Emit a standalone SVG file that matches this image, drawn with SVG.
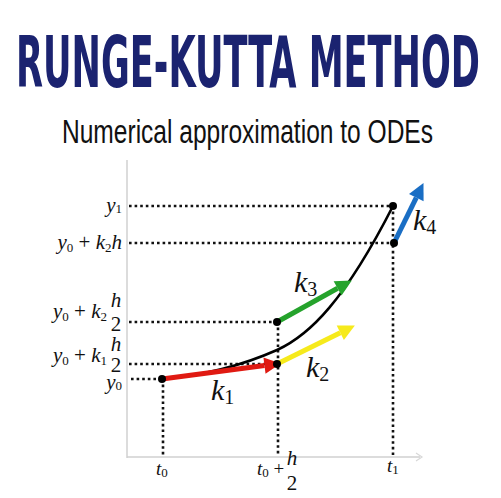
<svg xmlns="http://www.w3.org/2000/svg" width="501" height="498" viewBox="0 0 501 498">
<style>
.title{font-family:"DejaVu Sans Condensed","Liberation Sans",sans-serif;font-weight:bold;font-size:72px;fill:#1b2370}
.sub{font-family:"Liberation Sans",Arial,sans-serif;font-size:33px;fill:#111}
.axis{stroke:#d0d0d0;stroke-width:1.5;fill:none}
.dot{stroke:#111;stroke-width:2.6;stroke-dasharray:2.6 3;fill:none}
.curve{stroke:#000;stroke-width:2.6;fill:none}
.m{font-family:"Liberation Serif","Times New Roman",serif;font-style:italic;font-size:19px;fill:#111}
.n{font-family:"Liberation Serif","Times New Roman",serif;font-size:19px;fill:#111}
.fm{font-family:"Liberation Serif","Times New Roman",serif;font-style:italic;font-size:21px;fill:#111}
.fn{font-family:"Liberation Serif","Times New Roman",serif;font-size:21px;fill:#111}
.s{font-family:"Liberation Serif","Times New Roman",serif;font-size:13px;fill:#111}
.k{font-family:"Liberation Serif","Times New Roman",serif;font-style:italic;font-size:30px;fill:#111}
.ks{font-family:"Liberation Serif","Times New Roman",serif;font-size:20px;fill:#111}
.pt{fill:#000}
</style>
<defs>
<marker id="hr" markerUnits="userSpaceOnUse" orient="auto" refX="0" refY="0" markerWidth="20" markerHeight="20" viewBox="0 -8 16 16" overflow="visible"><path d="M0,-6.5 L13,0 L0,6.5 z" fill="#e01a12"/></marker>
<marker id="hy" markerUnits="userSpaceOnUse" orient="auto" refX="0" refY="0" markerWidth="20" markerHeight="20" viewBox="0 -8 16 16" overflow="visible"><path d="M0,-6.5 L13,0 L0,6.5 z" fill="#f6ea1c"/></marker>
<marker id="hg" markerUnits="userSpaceOnUse" orient="auto" refX="0" refY="0" markerWidth="20" markerHeight="20" viewBox="0 -8 16 16" overflow="visible"><path d="M0,-6.5 L13,0 L0,6.5 z" fill="#25a32c"/></marker>
<marker id="hb" markerUnits="userSpaceOnUse" orient="auto" refX="0" refY="0" markerWidth="20" markerHeight="20" viewBox="0 -8 16 16" overflow="visible"><path d="M0,-6.5 L13,0 L0,6.5 z" fill="#1a6ec4"/></marker>
</defs>
<rect width="501" height="498" fill="#fff"/>
<g id="title">
<text class="title" x="16" y="87" textLength="464" lengthAdjust="spacingAndGlyphs">RUNGE-KUTTA METHOD</text>
<text class="sub" x="62" y="143" textLength="371" lengthAdjust="spacingAndGlyphs">Numerical approximation to ODEs</text>
</g>
<g id="axes">
<line class="axis" x1="127" y1="160" x2="127" y2="458"/>
<line class="axis" x1="127" y1="457" x2="420" y2="457"/>
<path d="M416,453 L422,457 L416,461" stroke="#d8d8d8" stroke-width="1.2" fill="none"/>
</g>
<g id="connectors">
<line class="dot" x1="129" y1="206" x2="392" y2="206"/>
<line class="dot" x1="129" y1="243" x2="394" y2="243"/>
<line class="dot" x1="129" y1="322" x2="277" y2="322"/>
<line class="dot" x1="129" y1="364" x2="277" y2="364"/>
<line class="dot" x1="131" y1="379" x2="162" y2="379"/>
<line class="dot" x1="163" y1="379" x2="163" y2="456"/>
<line class="dot" x1="278" y1="322" x2="278" y2="456"/>
<line class="dot" x1="393" y1="206" x2="393" y2="456"/>
</g>
<g id="curve">
<path class="curve" d="M162,379 C210,375 250,362 277,350 C310,335 345,300 393,206"/>
</g>
<g id="arrows">
<line x1="162" y1="379" x2="264.5" y2="365.6" stroke="#e01a12" stroke-width="5" marker-end="url(#hr)"/>
<line x1="277" y1="364" x2="340.3" y2="332.8" stroke="#f6ea1c" stroke-width="5" marker-end="url(#hy)"/>
<line x1="277" y1="322" x2="337.6" y2="288.3" stroke="#25a32c" stroke-width="5" marker-end="url(#hg)"/>
<line x1="394" y1="243" x2="416.3" y2="197.7" stroke="#1a6ec4" stroke-width="5" marker-end="url(#hb)"/>
</g>
<g id="points">
<circle class="pt" cx="162" cy="379" r="4"/>
<circle class="pt" cx="277" cy="364" r="4"/>
<circle class="pt" cx="277" cy="322" r="4"/>
<circle class="pt" cx="393" cy="206" r="4"/>
<circle class="pt" cx="394" cy="243" r="4"/>
</g>
<g id="k-labels">
<text x="211" y="400"><tspan class="k">k</tspan><tspan class="ks" dy="4">1</tspan></text>
<text x="306" y="377"><tspan class="k">k</tspan><tspan class="ks" dy="4">2</tspan></text>
<text x="294" y="292"><tspan class="k">k</tspan><tspan class="ks" dy="4">3</tspan></text>
<text x="413" y="230"><tspan class="k">k</tspan><tspan class="ks" dy="4">4</tspan></text>
</g>
<g id="y-labels">
<text x="122" y="212" text-anchor="end"><tspan class="fm">y</tspan><tspan class="s" dy="1">1</tspan></text>
<text x="122" y="249" text-anchor="end"><tspan class="fm">y</tspan><tspan class="s" dy="3">0</tspan><tspan class="fn" dy="-3"> + </tspan><tspan class="fm">k</tspan><tspan class="s" dy="3">2</tspan><tspan class="fm" dy="-3">h</tspan></text>
<text x="107" y="318" text-anchor="end"><tspan class="fm">y</tspan><tspan class="s" dy="3">0</tspan><tspan class="fn" dy="-3"> + </tspan><tspan class="fm">k</tspan><tspan class="s" dy="3">2</tspan></text>
<text class="fm" x="116" y="307" text-anchor="middle">h</text>
<text class="fn" x="116" y="331" text-anchor="middle">2</text>
<text x="107" y="362" text-anchor="end"><tspan class="fm">y</tspan><tspan class="s" dy="3">0</tspan><tspan class="fn" dy="-3"> + </tspan><tspan class="fm">k</tspan><tspan class="s" dy="3">1</tspan></text>
<text class="fm" x="116" y="351" text-anchor="middle">h</text>
<text class="fn" x="116" y="372" text-anchor="middle">2</text>
<text x="122" y="389" text-anchor="end"><tspan class="fm">y</tspan><tspan class="s" dy="1">0</tspan></text>
</g>
<g id="t-labels">
<text x="156" y="475"><tspan class="m">t</tspan><tspan class="s" dy="2">0</tspan></text>
<text x="257" y="475"><tspan class="m">t</tspan><tspan class="s" dy="2">0</tspan><tspan class="n" dy="-2"> +</tspan></text>
<text class="fm" x="292" y="465" text-anchor="middle">h</text>
<text class="fn" x="292" y="490" text-anchor="middle">2</text>
<text x="387" y="472"><tspan class="m">t</tspan><tspan class="s" dy="2">1</tspan></text>
</g>
</svg>
